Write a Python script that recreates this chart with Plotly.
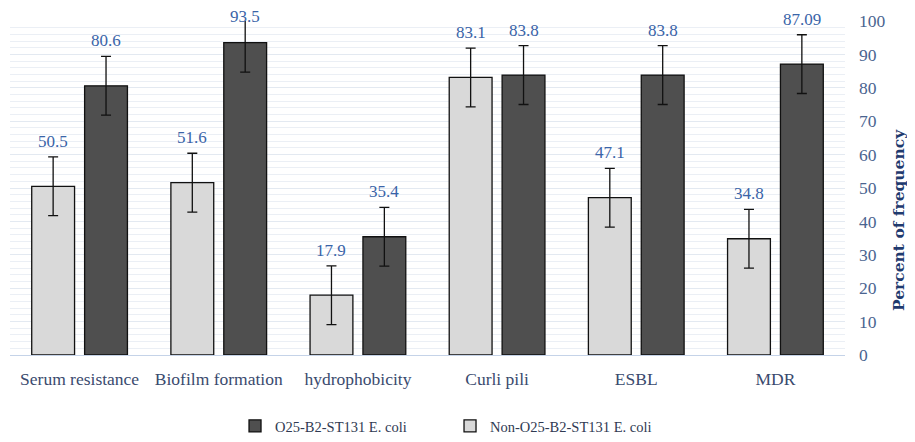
import plotly.graph_objects as go

categories = ["Serum resistance", "Biofilm formation", "hydrophobicity", "Curli pili", "ESBL", "MDR"]
non_o25 = [50.5, 51.6, 17.9, 83.1, 47.1, 34.8]
o25 = [80.6, 93.5, 35.4, 83.8, 83.8, 87.09]
non_o25_err = [8.8, 8.8, 8.8, 8.8, 8.8, 8.8]
o25_err = [8.8, 8.8, 8.8, 8.8, 8.8, 8.8]
non_labels = ["50.5", "51.6", "17.9", "83.1", "47.1", "34.8"]
o25_labels = ["80.6", "93.5", "35.4", "83.8", "83.8", "87.09"]
y_ticks = [0, 10, 20, 30, 40, 50, 60, 70, 80, 90, 100]
y_range = [0, 100]

SERIF = "Liberation Serif, Times New Roman, serif"
LABEL_BLUE = "#3a64a8"

# the page body adds an 8px offset, so the figure is sized to fit the window
W, H = 907, 434
ML, MR, MT, MB = 2, 70, 13, 87
BARGAP, GROUPGAP = 0.24, 0.19
plot_w = W - ML - MR
plot_h = H - MT - MB

fig = go.Figure()

fig.add_trace(go.Bar(
    name="Non-O25-B2-ST131 E. coli", x=categories, y=non_o25,
    marker=dict(color="#d9d9d9", line=dict(color="#111111", width=1.3)),
    error_y=dict(type="data", array=non_o25_err, color="#111111", thickness=1.3, width=5),
))
fig.add_trace(go.Bar(
    name="O25-B2-ST131 E. coli", x=categories, y=o25,
    marker=dict(color="#4f4f4f", line=dict(color="#111111", width=1.3)),
    error_y=dict(type="data", array=o25_err, color="#111111", thickness=1.3, width=5),
))

# data labels above error bars
cat_px = plot_w / len(categories)
slot_px = cat_px * (1 - BARGAP) / 2
span = y_range[1] - y_range[0]
max_label_y = 1 + (MT - 4 - 20) / plot_h
for series, errs, labels, sign in ((non_o25, non_o25_err, non_labels, -1), (o25, o25_err, o25_labels, 1)):
    for c, v, e, t in zip(categories, series, errs, labels):
        fig.add_annotation(x=c, y=min((v + e - y_range[0]) / span, max_label_y), xref="x", yref="paper",
                           text=t, showarrow=False, xshift=sign * slot_px / 2, yshift=4,
                           yanchor="bottom", font=dict(family=SERIF, size=17, color=LABEL_BLUE))

fig.add_annotation(text="<b>Percent of frequency</b>", xref="paper", yref="paper",
                   x=(890 - ML) / plot_w, y=(MT + plot_h - 212) / plot_h, textangle=-90,
                   showarrow=False, xanchor="center", yanchor="middle",
                   font=dict(family="DejaVu Serif, serif", size=15.5, color="#1f3a6e"))

fig.update_layout(
    width=W, height=H,
    margin=dict(l=ML, r=MR, t=MT, b=MB, autoexpand=False),
    paper_bgcolor="white", plot_bgcolor="white",
    barmode="group", bargap=BARGAP, bargroupgap=GROUPGAP,
    font=dict(family=SERIF, size=14, color="#3c4a66"),
    legend=dict(orientation="h", yref="container", xref="container", x=0.2503, xanchor="left",
                y=0.0, yanchor="bottom",
                traceorder="reversed", font=dict(family=SERIF, size=14.5, color="#2f3a52"),
                itemwidth=30, entrywidth=170),
    xaxis=dict(showgrid=False, ticks="", showline=True, linecolor="#c5d3e8", linewidth=1,
               ticklabelstandoff=8, automargin=False,
               tickfont=dict(family=SERIF, size=17.5, color="#3a4a6e")),
    yaxis=dict(side="right", range=y_range, tickvals=y_ticks, showline=False, zeroline=False,
               gridcolor="#e3e9f1", gridwidth=1, automargin=False,
               minor=dict(dtick=2, showgrid=True, gridcolor="#ebeff5", gridwidth=1),
               tickfont=dict(family=SERIF, size=17.5, color="#4a6490"), ticks="",
               ticklabelstandoff=13),
)

fig.write_html("out.html")
